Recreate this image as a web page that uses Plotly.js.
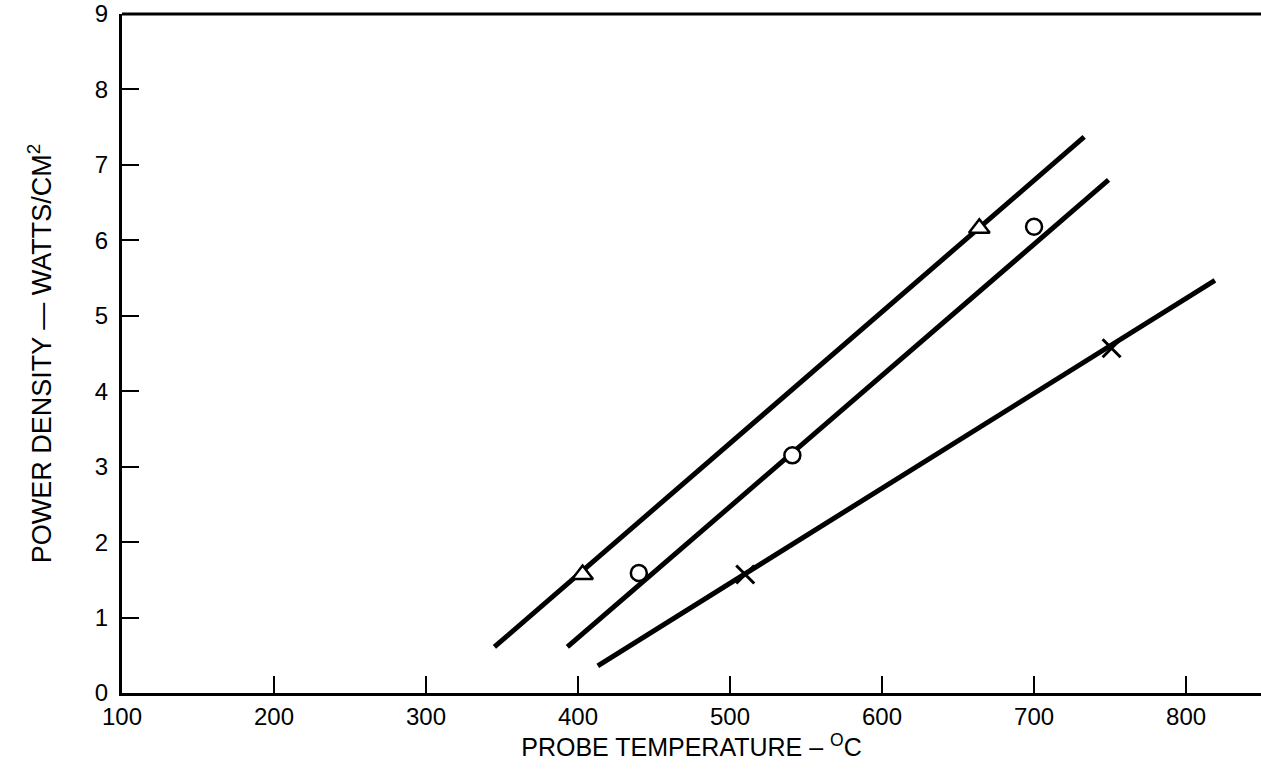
<!DOCTYPE html>
<html>
<head>
<meta charset="utf-8">
<script src="https://cdn.plot.ly/plotly-3.0.1.min.js"></script>
<style>html,body{margin:0;padding:0;background:#fff;}#chart{width:1261px;height:770px;}</style>
</head>
<body>
<div id="chart"></div>
<script>
// Fitted lines (endpoints)
const triLineX = [345, 733];
const triLineY = [0.61, 7.37];
const circLineX = [393, 749];
const circLineY = [0.61, 6.80];
const crossLineX = [413, 819];
const crossLineY = [0.36, 5.47];

// Measured points
const triX = [403, 664];
const triY = [1.57, 6.16];
const circX = [440, 541, 700];
const circY = [1.59, 3.15, 6.18];
const crossX = [510, 751];
const crossY = [1.57, 4.57];

const xTicks = [100, 200, 300, 400, 500, 600, 700, 800];
const yTicks = [0, 1, 2, 3, 4, 5, 6, 7, 8, 9];

const lineStyle = {color: '#000', width: 5};
const traces = [
  {x: triLineX, y: triLineY, mode: 'lines', line: lineStyle, hoverinfo: 'skip'},
  {x: circLineX, y: circLineY, mode: 'lines', line: lineStyle, hoverinfo: 'skip'},
  {x: crossLineX, y: crossLineY, mode: 'lines', line: lineStyle, hoverinfo: 'skip'},
  {x: triX, y: triY, mode: 'markers', marker: {symbol: 'triangle-up', size: 18, color: '#fff', line: {color: '#000', width: 2.5}}},
  {x: circX, y: circY, mode: 'markers', marker: {symbol: 'circle', size: 16, color: '#fff', line: {color: '#000', width: 2.5}}},
  {x: crossX, y: crossY, mode: 'markers', marker: {symbol: 'x-thin', size: 18, color: '#000', line: {color: '#000', width: 3}}}
];

const fam = 'Liberation Sans, Arial, Helvetica, sans-serif';
const layout = {
  width: 1261, height: 770,
  margin: {l: 122, r: 0, t: 14, b: 77},
  paper_bgcolor: '#fff', plot_bgcolor: '#fff',
  showlegend: false,
  font: {family: fam, color: '#000', size: 24},
  xaxis: {
    range: [100, 849.3], tickvals: xTicks, ticktext: xTicks.map(String),
    ticks: 'inside', ticklen: 17, tickwidth: 2, tickcolor: '#000',
    showline: true, linecolor: '#000', linewidth: 3, mirror: false,
    showgrid: false, zeroline: false,
    tickfont: {size: 24, family: fam, color: '#000'},
    title: {text: 'PROBE TEMPERATURE – <sup>O</sup>C', font: {size: 25, family: fam, color: '#000'}, standoff: 10}
  },
  yaxis: {
    range: [0, 9], tickvals: yTicks, ticktext: yTicks.map(String),
    ticks: 'inside', ticklen: 17, tickwidth: 2, tickcolor: '#000',
    ticklabelstandoff: 6,
    showline: true, linecolor: '#000', linewidth: 3,
    showgrid: false, zeroline: false,
    tickfont: {size: 24, family: fam, color: '#000'},
    title: {text: 'POWER DENSITY — WATTS/CM<sup>2</sup>', font: {size: 27, family: fam, color: '#000'}, standoff: 36}
  },
  shapes: [
    {type: 'line', xref: 'paper', yref: 'paper', x0: 0, x1: 1, y0: 1, y1: 1, line: {color: '#000', width: 3}}
  ]
};
Plotly.newPlot('chart', traces, layout, {displayModeBar: false, staticPlot: true});
</script>
</body>
</html>
